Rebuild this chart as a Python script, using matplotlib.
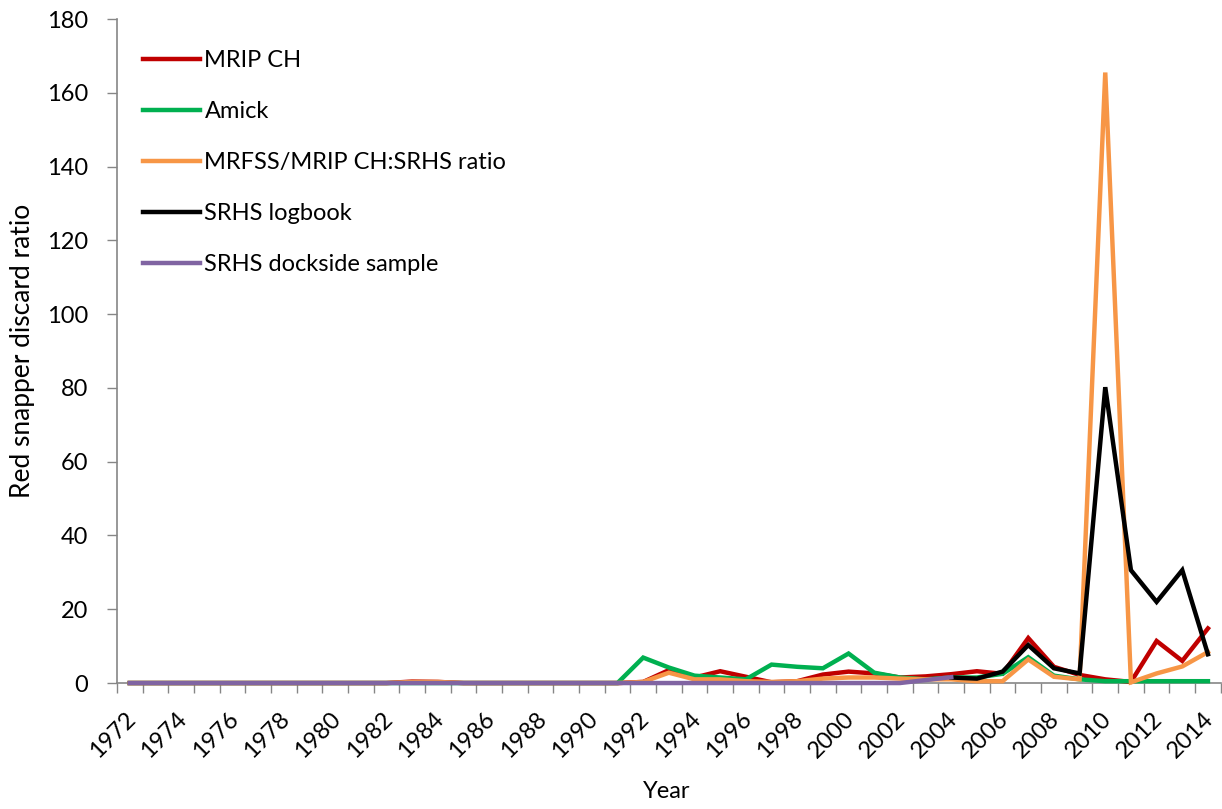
import matplotlib
matplotlib.use("Agg")
import matplotlib.pyplot as plt
import matplotlib.transforms as mtransforms
import numpy as np

years = list(range(1972, 2015))
N = None
mrip_ch = [0]*11 + [0.4, 0.3] + [0]*7 + [0.3, 3.5, 1.5, 3.2, 1.7, 0.2, 0.5, 2.3, 3.1, 2.6, 1.5,
                                        1.8, 2.4, 3.2, 2.5, 12.2, 4.4, 2.2, 1.0, 0.3, 11.4, 6.0, 14.8]
amick = [0]*20 + [6.9, 4.2, 2.0, 1.5, 1.0, 5.0, 4.4, 4.0, 8.0, 2.8, 1.5,
                  1.0, 1.5, 1.5, 2.5, 7.0, 2.0, 1.0, 0.5, 0.5, 0.5, 0.5, 0.5]
ratio = [0]*11 + [0.3, 0.3] + [0]*7 + [0.3, 2.8, 1.0, 1.0, 0.5, 0.3, 0.5, 1.2, 1.5, 1.5, 1.2,
                                       1.0, 1.0, 0.5, 0.5, 6.4, 1.7, 1.0, 165.5, 0.2, 2.6, 4.5, 8.4]
logbook = [N]*32 + [1.5, 1.2, 3.1, 10.3, 4.0, 2.6, 80.2, 30.6, 22.0, 30.6, 7.8]
dockside = [0]*31 + [0.8, 1.6] + [N]*10

series = [
    ("MRIP CH", mrip_ch, "#C00000"),
    ("Amick", amick, "#00B050"),
    ("MRFSS/MRIP CH:SRHS ratio", ratio, "#F79646"),
    ("SRHS logbook", logbook, "#000000"),
    ("SRHS dockside sample", dockside, "#8064A2"),
]

plt.rcParams['font.family'] = ['Lato', 'DejaVu Sans']

fig = plt.figure(figsize=(12.22, 8.09), dpi=100)
ax = fig.add_axes([0.0957, 0.1557, 0.9033, 0.8208])

x = np.arange(len(years))
for label, vals, col in series:
    y = np.array([np.nan if v is None else v for v in vals], dtype=float)
    ax.plot(x, y, color=col, lw=3.2, label=label, solid_joinstyle='miter',
            clip_on=False, zorder=3)

ax.set_xlim(-0.5, len(years) - 0.5)
ax.set_ylim(0, 180)
ax.set_yticks(np.arange(0, 181, 20))
ax.tick_params(axis='y', labelsize=17, length=7.5, color='#868686', direction='out', width=1, pad=13)

ax.set_xticks(x[::2])
ax.set_xticklabels([str(v) for v in years[::2]], rotation=45, ha='right',
                   rotation_mode='anchor')
ax.tick_params(axis='x', which='major', length=0, pad=18, labelsize=17)
ax.set_xticks(np.arange(-0.5, len(years), 1), minor=True)
ax.tick_params(axis='x', which='minor', length=7, color='#868686', width=1)
shift = mtransforms.ScaledTranslation(-5 / 100, 0, fig.dpi_scale_trans)
for lbl in ax.get_xticklabels():
    lbl.set_transform(lbl.get_transform() + shift)

for s in ['top', 'right']:
    ax.spines[s].set_visible(False)
for s in ['left', 'bottom']:
    ax.spines[s].set_color('#868686')
    ax.spines[s].set_linewidth(1.2)

ax.set_ylabel("Red snapper discard ratio", fontsize=19)
ax.yaxis.set_label_coords(-0.0745, 0.5)
ax.set_xlabel("Year", fontsize=17)
ax.xaxis.set_label_coords(0.498, -0.148)

leg = ax.legend(loc='upper left', bbox_to_anchor=(0.004, 0.985), frameon=False, fontsize=17,
                handlelength=2.45, handletextpad=0.17, labelspacing=1.27)

fig.savefig("out.png", dpi=100)
